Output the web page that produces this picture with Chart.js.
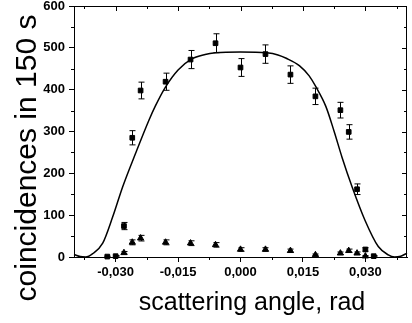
<!DOCTYPE html>
<html lang="en">
<head>
<meta charset="UTF-8">
<title>Coincidences vs scattering angle</title>
<script src="https://cdn.jsdelivr.net/npm/chart.js"></script>
<style>
  html, body { margin: 0; padding: 0; background: #fff; }
  #wrap { width: 412px; height: 323px; }
</style>
</head>
<body>
<div id="wrap"><canvas id="chart" width="412" height="323"></canvas></div>
<script>
    // squares (measured points) with error bars
    const squareAngle = [-0.032, -0.030, -0.028, -0.026, -0.024, -0.018, -0.012, -0.006, 0.000, 0.006, 0.012, 0.018, 0.024, 0.026, 0.028, 0.030, 0.032];
    const squareCounts = [1, 2, 74, 285, 398, 419, 472, 511, 453, 485, 436, 384, 351, 299, 162, 18, 2];
    const squareErr = [1, 1.5, 8.6, 17, 20, 20.5, 21.7, 22.6, 21.3, 22, 20.9, 19.6, 18.7, 17.3, 12.7, 4.2, 1.4];

    // triangles (background points)
    const triAngle = [-0.028, -0.026, -0.024, -0.018, -0.012, -0.006, 0.000, 0.006, 0.012, 0.018, 0.024, 0.026, 0.028, 0.030];
    const triCounts = [10, 35, 45, 35, 33, 29, 18, 18, 15, 5, 9, 15, 9, 2];
    const triErr = [3.2, 5.9, 6.7, 5.9, 5.7, 5.4, 4.2, 4.2, 3.9, 2.2, 3, 3.9, 3, 1.4];

    // calculated curve
    const curveAngle = [-0.0400, -0.0385, -0.0372, -0.0355, -0.0331, -0.0307, -0.0283, -0.0252, -0.0220, -0.0205, -0.0181, -0.0150, -0.0118, -0.0085, -0.0060, 0.0000, 0.0063, 0.0090, 0.0110, 0.0142, 0.0165, 0.0181, 0.0205, 0.0225, 0.0244, 0.0268, 0.0299, 0.0331, 0.0355, 0.0370, 0.0385, 0.0400];
    const curveCounts = [6, 1, 0, 8, 33, 96, 168, 248, 327, 360, 405, 447, 473, 484, 488, 490, 488, 483, 475, 457, 433, 407, 360, 300, 238, 168, 88, 25, 5, 0, 2, 9];

    // tick positions
    const xMajorTicks = [-0.030, -0.015, 0.000, 0.015, 0.030];
    const xMinorTicks = [-0.0375, -0.0225, -0.0075, 0.0075, 0.0225, 0.0375];
    const yMajorTicks = [0, 100, 200, 300, 400, 500, 600];
    const yMinorTicks = [50, 150, 250, 350, 450, 550];

    const xTitle = 'scattering angle, rad';
    const yTitle = 'coincidences in 150 s';

    function toXY(xs, ys) {
        return xs.map((x, i) => ({ x: x, y: ys[i] }));
    }

    const FONT = 'Arial, "Liberation Sans", sans-serif';

    // frame, minor ticks, inner ticks on top/right, error bars, titles
    const extras = {
        id: 'extras',
        afterDatasetsDraw(chart) {
            const ctx = chart.ctx;
            const a = chart.chartArea;
            const xs = chart.scales.x, ys = chart.scales.y;
            ctx.save();
            ctx.strokeStyle = '#000';
            ctx.lineWidth = 1;

            // error bars
            const bars = [[squareAngle, squareCounts, squareErr], [triAngle, triCounts, triErr]];
            bars.forEach(([px, py, pe]) => {
                px.forEach((v, i) => {
                    const x = Math.round(xs.getPixelForValue(v)) + 0.5;
                    const y1 = ys.getPixelForValue(py[i] + pe[i]);
                    const y2 = ys.getPixelForValue(Math.max(0, py[i] - pe[i]));
                    ctx.beginPath();
                    ctx.moveTo(x, y1); ctx.lineTo(x, y2);
                    ctx.moveTo(x - 3, y1); ctx.lineTo(x + 3, y1);
                    ctx.moveTo(x - 3, y2); ctx.lineTo(x + 3, y2);
                    ctx.stroke();
                });
            });

            // top and right frame lines
            ctx.beginPath();
            ctx.moveTo(a.left, a.top + 0.5); ctx.lineTo(a.right, a.top + 0.5);
            ctx.moveTo(a.right - 0.5, a.top); ctx.lineTo(a.right - 0.5, a.bottom);
            ctx.stroke();

            ctx.beginPath();
            // bottom minor (outward), top major+minor (inward)
            xMinorTicks.forEach(v => {
                const x = Math.round(xs.getPixelForValue(v)) + 0.5;
                ctx.moveTo(x, a.bottom); ctx.lineTo(x, a.bottom + 3);
                ctx.moveTo(x, a.top); ctx.lineTo(x, a.top + 3);
            });
            xMajorTicks.forEach(v => {
                const x = Math.round(xs.getPixelForValue(v)) + 0.5;
                ctx.moveTo(x, a.top); ctx.lineTo(x, a.top + 5);
            });
            // left minor (outward), right major+minor (inward)
            yMinorTicks.forEach(v => {
                const y = Math.round(ys.getPixelForValue(v)) + 0.5;
                ctx.moveTo(a.left - 3, y); ctx.lineTo(a.left, y);
                ctx.moveTo(a.right, y); ctx.lineTo(a.right - 3, y);
            });
            yMajorTicks.forEach(v => {
                const y = Math.round(ys.getPixelForValue(v)) + 0.5;
                ctx.moveTo(a.right, y); ctx.lineTo(a.right - 5, y);
            });
            ctx.stroke();

            // axis titles
            ctx.fillStyle = '#000';
            ctx.textAlign = 'center';
            ctx.textBaseline = 'alphabetic';
            ctx.font = '25px ' + FONT;
            ctx.fillText(xTitle, 252, 310);
            ctx.translate(36, 158);
            ctx.rotate(-Math.PI / 2);
            ctx.font = '30px ' + FONT;
            ctx.fillText(yTitle, 0, 0);
            ctx.restore();
        }
    };

    function fixAxis(size) {
        return function (scale) {
            if (scale.isHorizontal()) scale.height = size; else scale.width = size;
            scale.paddingTop = 0; scale.paddingBottom = 0;
            scale.paddingLeft = 0; scale.paddingRight = 0;
        };
    }

    new Chart(document.getElementById('chart'), {
        type: 'scatter',
        data: {
            datasets: [
                {
                    label: 'curve',
                    data: toXY(curveAngle, curveCounts),
                    showLine: true,
                    borderColor: '#000',
                    borderWidth: 1.5,
                    pointRadius: 0,
                    cubicInterpolationMode: 'monotone',
                    order: 3
                },
                {
                    label: 'squares',
                    data: toXY(squareAngle, squareCounts),
                    pointStyle: 'rect',
                    pointRadius: 3.3,
                    borderWidth: 1,
                    backgroundColor: '#000',
                    borderColor: '#000',
                    order: 1
                },
                {
                    label: 'triangles',
                    data: toXY(triAngle, triCounts),
                    pointStyle: 'triangle',
                    pointRadius: 3.6,
                    borderWidth: 1,
                    backgroundColor: '#000',
                    borderColor: '#000',
                    order: 2
                }
            ]
        },
        options: {
            responsive: false,
            animation: false,
            clip: false,
            layout: { padding: { top: 6, right: 1, left: 0, bottom: 0 } },
            plugins: {
                legend: { display: false },
                tooltip: { enabled: false }
            },
            scales: {
                x: {
                    type: 'linear',
                    min: -0.04,
                    max: 0.04,
                    afterBuildTicks: (scale) => { scale.ticks = xMajorTicks.map(v => ({ value: v })); },
                    afterFit: fixAxis(66),
                    grid: { display: true, drawOnChartArea: false, drawTicks: true, tickLength: 5, color: '#000' },
                    border: { display: true, color: '#000', width: 1 },
                    ticks: {
                        color: '#000',
                        padding: 3,
                        maxRotation: 0,
                        font: { family: FONT, size: 13, weight: 'bold' },
                        callback: (v) => (Math.abs(v) < 1e-9 ? 0 : v).toFixed(3).replace('.', ',')
                    }
                },
                y: {
                    min: 0,
                    max: 600,
                    afterBuildTicks: (scale) => { scale.ticks = yMajorTicks.map(v => ({ value: v })); },
                    afterFit: fixAxis(74),
                    grid: { display: true, drawOnChartArea: false, drawTicks: true, tickLength: 5, color: '#000' },
                    border: { display: true, color: '#000', width: 1 },
                    ticks: {
                        color: '#000',
                        padding: 4,
                        font: { family: FONT, size: 13, weight: 'bold' }
                    }
                }
            }
        },
        plugins: [extras]
    });
</script>
</body>
</html>
